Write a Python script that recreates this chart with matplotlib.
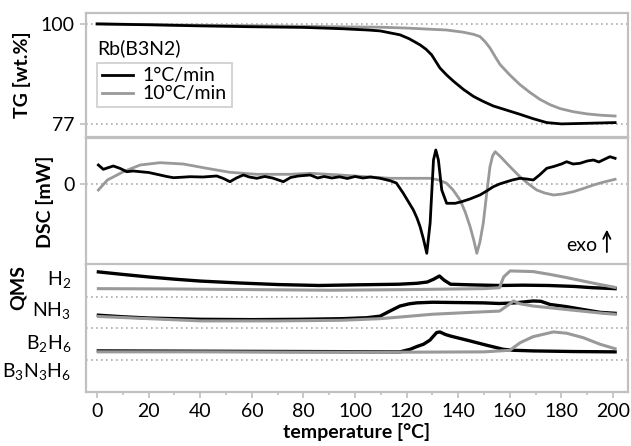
import matplotlib
matplotlib.use("Agg")
import matplotlib.pyplot as plt
from matplotlib.ticker import MultipleLocator

plt.rcParams['font.family'] = ['Lato', 'DejaVu Sans']
plt.rcParams['mathtext.fontset'] = 'custom'
plt.rcParams['mathtext.rm'] = 'Lato'

# ---- TG [wt.%] ----
tg_T_slow = [0, 20, 40, 60, 80, 95, 105, 109.7, 117.4, 121, 125.2, 127.5, 129.7, 132.9, 135.5,
             138.1, 142, 145.9, 149.5, 153.6, 158.5, 163.9, 169, 174.3, 180, 187.2, 194, 200.8]
tg_slow = [100, 99.8, 99.55, 99.35, 99.2, 98.9, 98.6, 98.4, 97.5, 96.6, 95.2, 94.2, 92.9, 89.9,
           88.3, 86.9, 85.0, 83.4, 82.3, 81.2, 80.3, 79.3, 78.3, 77.4, 77.1, 77.2, 77.3, 77.4]
tg_T_fast = [0, 20, 40, 60, 80, 100, 109.7, 120, 135.5, 142, 146, 148.4, 150.3, 152.3, 154.3,
             156.2, 160, 163.9, 167.8, 171.7, 175.6, 179.5, 184.5, 189.8, 195, 200.8]
tg_fast = [100, 99.85, 99.7, 99.6, 99.45, 99.3, 99.25, 99.05, 98.6, 98.1, 97.6, 97.1, 96.0, 94.5,
           92.5, 90.7, 88.3, 86.1, 84.3, 82.7, 81.5, 80.6, 79.9, 79.4, 79.1, 78.9]

# ---- DSC [mW] ----
dsc_T_slow = [0.5, 2.4, 4.5, 6.3, 9, 11.5, 14, 16.7, 20, 24.4, 27, 29.6, 33, 36, 41, 46.4, 49,
              51.5, 54, 56.7, 59, 61.9, 65, 68, 72.2, 75, 78, 82.6, 85.5, 88, 91, 94, 97, 100,
              103, 106, 109.7, 113.6, 116, 118.7, 120.5, 122.6, 124, 125.2, 126.5, 127.8, 129.1,
              130.4, 131.3, 132.3, 133.6, 135.5, 138.8, 141.3, 144.5, 148.4, 151, 153.6, 156,
              158.8, 161, 163.9, 166.5, 169.1, 171.5, 174.3, 177, 180, 182, 184.5, 187.2, 190,
              192.4, 194.5, 196.5, 198.8, 200.8]
dsc_slow = [1.9, 1.47, 1.65, 1.8, 1.55, 1.23, 1.3, 1.23, 1.15, 0.9, 0.75, 0.63, 0.68, 0.73, 0.7,
            0.8, 0.55, 0.23, 0.6, 0.9, 0.7, 0.57, 0.75, 0.6, 0.23, 0.65, 0.8, 0.9, 0.6, 0.75, 0.6,
            0.72, 0.55, 0.75, 0.6, 0.7, 0.57, 0.33, 0.1, -0.93, -1.7, -2.6, -3.4, -4.27, -5.5,
            -6.93, -3.9, 2.4, 3.4, 2.4, -0.6, -1.93, -1.93, -1.77, -1.5, -1.1, -0.7, -0.27, 0.0,
            0.23, 0.4, 0.57, 0.5, 0.4, 0.9, 1.57, 1.75, 2.0, 2.23, 2.0, 2.07, 2.3, 2.4, 2.2, 2.45,
            2.73, 2.57]
dsc_T_fast = [0.5, 4, 10.2, 16.7, 24.4, 33.4, 42.5, 51.5, 61.9, 74.8, 82.6, 94.2, 113.6, 129.1,
              132.5, 135.5, 138, 140.7, 142.7, 144.6, 146, 147.2, 148.4, 149.7, 151, 152.3, 153.3,
              154.3, 156.5, 158.8, 161.5, 163.9, 167, 170.4, 173.5, 176.9, 180.5, 184.6, 188.5,
              192.4, 196.5, 200.8]
dsc_fast = [-0.6, 0.4, 1.23, 1.9, 2.13, 2.0, 1.57, 1.17, 0.97, 0.97, 1.07, 0.9, 0.57, 0.57, 0.4,
            0.07, -0.6, -1.6, -2.8, -4.27, -5.6, -6.93, -5.8, -3.9, -1.0, 1.73, 2.8, 3.23, 2.7,
            2.07, 1.35, 0.73, 0.05, -0.6, -0.9, -1.1, -1.0, -0.77, -0.45, -0.1, 0.2, 0.47]

# ---- QMS (offset traces) ----
qms_labels = ['H$_\\mathregular{2}$', 'NH$_\\mathregular{3}$',
              'B$_\\mathregular{2}$H$_\\mathregular{6}$',
              'B$_\\mathregular{3}$N$_\\mathregular{3}$H$_\\mathregular{6}$']
qms_label_pos = [3.51, 2.53, 1.49, 0.6]
qms_baselines = [3, 2, 1]

h2_T_slow = [0.5, 10, 20, 30, 40, 55, 70, 86, 100, 117, 124, 128, 130.5, 132.7, 134.5, 137, 145,
             156, 165, 175, 185, 192, 200.8]
h2_slow = [3.78, 3.7, 3.62, 3.55, 3.49, 3.43, 3.38, 3.35, 3.37, 3.39, 3.42, 3.46, 3.55, 3.65,
           3.52, 3.39, 3.37, 3.35, 3.36, 3.35, 3.32, 3.28, 3.25]
h2_T_fast = [0.5, 30, 60, 90, 120, 140, 150, 156, 157.6, 160.1, 165, 169, 175.6, 182, 188.4, 195,
             200.8]
h2_fast = [3.25, 3.24, 3.22, 3.2, 3.22, 3.24, 3.25, 3.28, 3.62, 3.81, 3.8, 3.79, 3.70, 3.6, 3.49,
           3.38, 3.29]

nh3_T_slow = [0.5, 10, 20, 40, 60, 78.7, 95, 104.5, 109.7, 113, 117.4, 121, 123.9, 130, 140,
              149.7, 156, 162, 169, 172, 175.6, 182, 188.4, 195, 200.8]
nh3_slow = [2.41, 2.36, 2.32, 2.28, 2.27, 2.28, 2.30, 2.33, 2.38, 2.52, 2.70, 2.77, 2.80, 2.82,
            2.81, 2.80, 2.78, 2.80, 2.86, 2.85, 2.75, 2.68, 2.59, 2.50, 2.47]
nh3_T_fast = [0.5, 20, 40, 70, 95, 109.7, 120, 130, 145, 156, 158.8, 161.4, 164, 169, 182, 195,
              200.8]
nh3_fast = [2.37, 2.3, 2.23, 2.23, 2.25, 2.30, 2.37, 2.44, 2.50, 2.54, 2.70, 2.86, 2.77, 2.70,
            2.59, 2.48, 2.44]

b2h6_T_slow = [0.5, 40, 80, 117.4, 121.3, 124, 126.5, 129, 131.6, 132.9, 135, 137, 143.4, 151,
               157.5, 161.4, 169, 185, 200.8]
b2h6_slow = [1.28, 1.27, 1.26, 1.25, 1.33, 1.42, 1.49, 1.62, 1.86, 1.88, 1.80, 1.75, 1.62, 1.46,
             1.33, 1.30, 1.28, 1.26, 1.25]
b2h6_T_fast = [0.5, 40, 80, 120, 150, 160, 162, 164, 169, 176.9, 182, 188.4, 195, 200.8]
b2h6_fast = [1.25, 1.25, 1.24, 1.24, 1.25, 1.30, 1.42, 1.54, 1.73, 1.88, 1.84, 1.70, 1.49, 1.35]

BLACK = '#000000'
GREY = '#999999'
FRAME = '#c0c0c0'
DOT = '#aaaaaa'
FS = 14

fig = plt.figure(figsize=(6.31, 4.46), dpi=100)
W, H = 631, 446
def box(top, bottom, left=86, right=628):
    return [left / W, 1 - bottom / H, (right - left) / W, (bottom - top) / H]

ax_tg = fig.add_axes(box(13, 137))
ax_dsc = fig.add_axes(box(138, 265))
ax_qms = fig.add_axes(box(264, 392))

for ax in (ax_tg, ax_dsc, ax_qms):
    ax.set_xlim(-4.3, 205.8)
    for s in ax.spines.values():
        s.set_color(FRAME)
        s.set_linewidth(1.6)
    ax.tick_params(axis='both', colors=FRAME, labelcolor='black', labelsize=FS,
                   length=4.5, width=1.2)

# TG
ax_tg.set_ylim(74.1, 102.5)
for v in (100, 77):
    ax_tg.axhline(v, color=DOT, ls=(0, (1, 2)), lw=1.2, zorder=1)
ax_tg.plot(tg_T_fast, tg_fast, color=GREY, lw=2, label='10°C/min', zorder=2)
ax_tg.plot(tg_T_slow, tg_slow, color=BLACK, lw=2, label='1°C/min', zorder=3)
ax_tg.set_yticks([100, 77])
ax_tg.set_xticks([])
ax_tg.set_ylabel('TG [wt.%]', fontsize=FS, fontweight='bold', labelpad=7)
ax_tg.text(0.02, 0.715, 'Rb(B3N2)', transform=ax_tg.transAxes, fontsize=FS, va='center')
handles, labels = ax_tg.get_legend_handles_labels()
leg = ax_tg.legend(handles[::-1], labels[::-1], loc='upper left', bbox_to_anchor=(0.02, 0.6),
                   borderaxespad=0, fontsize=FS, fancybox=False, handlelength=1.6,
                   handletextpad=0.5, borderpad=0.25, labelspacing=0.05)
leg.get_frame().set_edgecolor(FRAME)
leg.get_frame().set_linewidth(1.2)

# DSC
ax_dsc.set_ylim(-8.1, 4.6)
ax_dsc.axhline(0, color=DOT, ls=(0, (1, 2)), lw=1.2, zorder=1)
ax_dsc.plot(dsc_T_fast, dsc_fast, color=GREY, lw=2, zorder=2)
ax_dsc.plot(dsc_T_slow, dsc_slow, color=BLACK, lw=2, zorder=3)
ax_dsc.set_yticks([0])
ax_dsc.set_xticks([])
ax_dsc.set_ylabel('DSC [mW]', fontsize=FS, fontweight='bold', labelpad=7)
ax_dsc.text(0.943, 0.15, 'exo', transform=ax_dsc.transAxes, fontsize=FS, ha='right', va='center')
ax_dsc.annotate('', xy=(0.961, 0.3), xytext=(0.961, 0.08), xycoords='axes fraction',
                arrowprops=dict(arrowstyle='->', color='black', lw=1.3, mutation_scale=13))

# QMS
ax_qms.set_ylim(-0.02, 4.03)
for b in qms_baselines:
    ax_qms.axhline(b, color=DOT, ls=(0, (1, 2)), lw=1.2, zorder=1)
for tt, yy in ((h2_T_slow, h2_slow), (nh3_T_slow, nh3_slow), (b2h6_T_slow, b2h6_slow)):
    ax_qms.plot(tt, yy, color=BLACK, lw=2.4, zorder=2)
for tt, yy in ((h2_T_fast, h2_fast), (nh3_T_fast, nh3_fast), (b2h6_T_fast, b2h6_fast)):
    ax_qms.plot(tt, yy, color=GREY, lw=2.2, zorder=3)
ax_qms.set_yticks([])
for lab, yv in zip(qms_labels, qms_label_pos):
    ax_qms.text(-0.027, yv, lab, transform=ax_qms.get_yaxis_transform(), ha='right', va='center',
                fontsize=FS)
fig.text(18 / W, 1 - 288 / H, 'QMS', rotation=90, ha='center', va='center', fontsize=FS,
         fontweight='bold')
ax_qms.xaxis.set_major_locator(MultipleLocator(20))
ax_qms.xaxis.set_minor_locator(MultipleLocator(10))
ax_qms.tick_params(axis='x', which='minor', colors=FRAME, length=2.5, width=1.2)
ax_qms.set_xlabel('temperature [°C]', fontsize=FS, fontweight='bold', labelpad=2)

fig.savefig('out.png', dpi=100)
